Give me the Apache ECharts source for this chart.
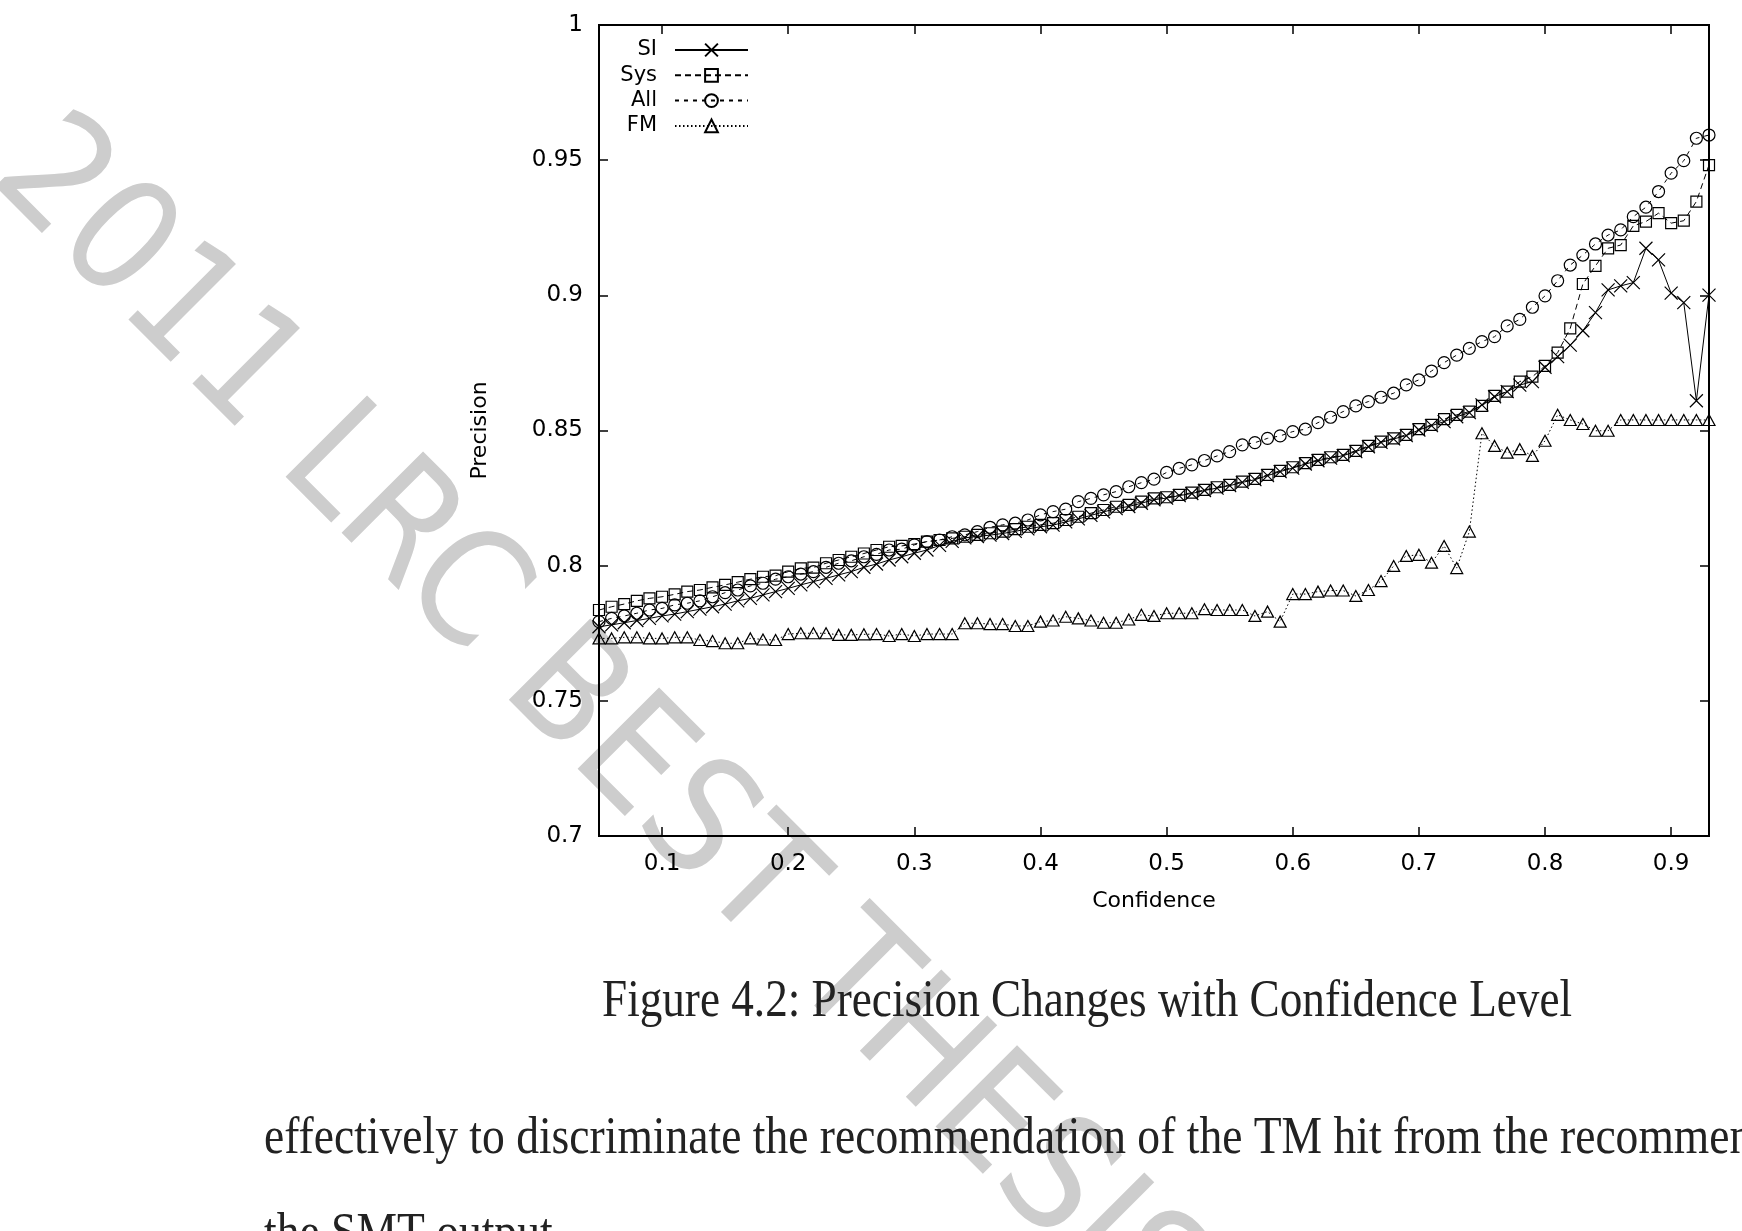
<!DOCTYPE html>
<html>
<head>
<meta charset="utf-8">
<title>Precision Changes with Confidence Level</title>
<script src="https://cdn.jsdelivr.net/npm/echarts@6.0.0/dist/echarts.min.js"></script>
<style>
  html, body { margin: 0; padding: 0; background: #fff; }
  #main { width: 1742px; height: 1231px; }
</style>
</head>
<body>
<div id="main"></div>
<script>
// confidence threshold (x) and precision of each method (y)
var confidence = [
  0.05, 0.06, 0.07, 0.08, 0.09, 0.10, 0.11, 0.12, 0.13, 0.14,
  0.15, 0.16, 0.17, 0.18, 0.19, 0.20, 0.21, 0.22, 0.23, 0.24,
  0.25, 0.26, 0.27, 0.28, 0.29, 0.30, 0.31, 0.32, 0.33, 0.34,
  0.35, 0.36, 0.37, 0.38, 0.39, 0.40, 0.41, 0.42, 0.43, 0.44,
  0.45, 0.46, 0.47, 0.48, 0.49, 0.50, 0.51, 0.52, 0.53, 0.54,
  0.55, 0.56, 0.57, 0.58, 0.59, 0.60, 0.61, 0.62, 0.63, 0.64,
  0.65, 0.66, 0.67, 0.68, 0.69, 0.70, 0.71, 0.72, 0.73, 0.74,
  0.75, 0.76, 0.77, 0.78, 0.79, 0.80, 0.81, 0.82, 0.83, 0.84,
  0.85, 0.86, 0.87, 0.88, 0.89, 0.90, 0.91, 0.92, 0.93
];

var precisionSI = [
  0.7774, 0.7781, 0.7789, 0.7797, 0.7805, 0.7814, 0.7821, 0.7830, 0.7839, 0.7848,
  0.7858, 0.7870, 0.7879, 0.7892, 0.7904, 0.7916, 0.7929, 0.7941, 0.7953, 0.7966,
  0.7978, 0.7994, 0.8006, 0.8021, 0.8033, 0.8046, 0.8058, 0.8075, 0.8090, 0.8103,
  0.8108, 0.8113, 0.8119, 0.8127, 0.8136, 0.8144, 0.8150, 0.8162, 0.8173, 0.8186,
  0.8199, 0.8211, 0.8219, 0.8231, 0.8244, 0.8250, 0.8259, 0.8267, 0.8278, 0.8287,
  0.8296, 0.8308, 0.8318, 0.8333, 0.8348, 0.8361, 0.8376, 0.8388, 0.8398, 0.8407,
  0.8422, 0.8440, 0.8456, 0.8469, 0.8481, 0.8502, 0.8518, 0.8533, 0.8551, 0.8566,
  0.8595, 0.8625, 0.8644, 0.8668, 0.8681, 0.8734, 0.8773, 0.8816, 0.8869, 0.8936,
  0.9020, 0.9035, 0.9047, 0.9174, 0.9131, 0.9008, 0.8973, 0.8610, 0.9001
];

var precisionSys = [
  0.7836, 0.7848, 0.7858, 0.7870, 0.7879, 0.7885, 0.7894, 0.7904, 0.7910, 0.7920,
  0.7929, 0.7939, 0.7950, 0.7959, 0.7963, 0.7978, 0.7990, 0.7993, 0.8009, 0.8021,
  0.8033, 0.8045, 0.8058, 0.8070, 0.8073, 0.8080, 0.8089, 0.8095, 0.8101, 0.8107,
  0.8114, 0.8120, 0.8126, 0.8135, 0.8144, 0.8151, 0.8157, 0.8169, 0.8181, 0.8194,
  0.8206, 0.8218, 0.8225, 0.8237, 0.8249, 0.8253, 0.8262, 0.8270, 0.8280, 0.8290,
  0.8299, 0.8311, 0.8321, 0.8336, 0.8351, 0.8364, 0.8379, 0.8391, 0.8401, 0.8410,
  0.8425, 0.8443, 0.8459, 0.8471, 0.8484, 0.8505, 0.8521, 0.8542, 0.8558, 0.8570,
  0.8591, 0.8628, 0.8644, 0.8681, 0.8699, 0.8739, 0.8788, 0.8878, 0.9042, 0.9109,
  0.9174, 0.9186, 0.9257, 0.9273, 0.9304, 0.9267, 0.9276, 0.9347, 0.9482
];

var precisionAll = [
  0.7793, 0.7805, 0.7814, 0.7824, 0.7836, 0.7842, 0.7855, 0.7861, 0.7870, 0.7885,
  0.7900, 0.7910, 0.7925, 0.7935, 0.7950, 0.7959, 0.7969, 0.7978, 0.7994, 0.8009,
  0.8018, 0.8033, 0.8042, 0.8058, 0.8061, 0.8077, 0.8089, 0.8095, 0.8107, 0.8114,
  0.8126, 0.8142, 0.8151, 0.8157, 0.8169, 0.8188, 0.8200, 0.8209, 0.8237, 0.8249,
  0.8262, 0.8274, 0.8292, 0.8307, 0.8320, 0.8345, 0.8360, 0.8373, 0.8389, 0.8406,
  0.8422, 0.8447, 0.8455, 0.8471, 0.8480, 0.8496, 0.8505, 0.8529, 0.8549, 0.8570,
  0.8591, 0.8607, 0.8623, 0.8638, 0.8669, 0.8687, 0.8720, 0.8751, 0.8779, 0.8804,
  0.8829, 0.8847, 0.8887, 0.8911, 0.8956, 0.8998, 0.9054, 0.9112, 0.9149, 0.9190,
  0.9223, 0.9242, 0.9291, 0.9326, 0.9384, 0.9452, 0.9498, 0.9581, 0.9593
];

var precisionFM = [
  0.7731, 0.7731, 0.7735, 0.7735, 0.7731, 0.7731, 0.7735, 0.7735, 0.7725, 0.7721,
  0.7713, 0.7713, 0.7731, 0.7727, 0.7725, 0.7747, 0.7750, 0.7750, 0.7750, 0.7744,
  0.7744, 0.7746, 0.7747, 0.7740, 0.7747, 0.7740, 0.7747, 0.7747, 0.7747, 0.7787,
  0.7787, 0.7784, 0.7784, 0.7777, 0.7777, 0.7793, 0.7797, 0.7811, 0.7805, 0.7797,
  0.7789, 0.7789, 0.7801, 0.7818, 0.7814, 0.7824, 0.7824, 0.7824, 0.7839, 0.7836,
  0.7836, 0.7836, 0.7814, 0.7830, 0.7793, 0.7895, 0.7895, 0.7904, 0.7908, 0.7908,
  0.7888, 0.7910, 0.7943, 0.7999, 0.8036, 0.8040, 0.8011, 0.8073, 0.7991, 0.8126,
  0.8490, 0.8443, 0.8418, 0.8431, 0.8406, 0.8462, 0.8558, 0.8539, 0.8524, 0.8499,
  0.8499, 0.8539, 0.8539, 0.8539, 0.8539, 0.8539, 0.8539, 0.8539, 0.8539
];

var seriesNames = ["SI", "Sys", "All", "FM"];
var xTicks = [0.1, 0.2, 0.3, 0.4, 0.5, 0.6, 0.7, 0.8, 0.9];

var captionText = "Figure 4.2: Precision Changes with Confidence Level";
var bodyLine1 = "effectively to discriminate the recommendation of the TM hit from the recommendation of";
var bodyLine2 = "the SMT output.";
var watermarkText = "2011 LRC BEST THESIS";

var axisFont = "DejaVu Sans";
var serifFont = "Liberation Serif";

// the page text is a narrow serif, squeeze Liberation Serif to the same width
var ctx = document.createElement("canvas").getContext("2d");
ctx.font = '52px "' + serifFont + '"';
var captionScale = 970 / ctx.measureText(captionText).width;
var bodyScale = 1296 / ctx.measureText("effectively to discriminate the recommendation of the TM hit from the ").width;

function pairs(ys) {
  return confidence.map(function (x, i) { return [x, ys[i]]; });
}

var crossSymbol = "path://M0,0L10,10M10,0L0,10";

function lineSeries(name, ys, symbol, size, dash) {
  return {
    name: name,
    type: "line",
    data: pairs(ys),
    symbol: symbol,
    symbolSize: size,
    showAllSymbol: true,
    lineStyle: { color: "#000", width: 1, type: dash },
    itemStyle: { color: "rgba(0,0,0,0)", borderColor: "#000", borderWidth: 1.2 },
    emphasis: { disabled: true },
    z: 3
  };
}

var series = [
  lineSeries("SI", precisionSI, crossSymbol, 13, "solid"),
  lineSeries("Sys", precisionSys, "rect", 11, [6, 4]),
  lineSeries("All", precisionAll, "circle", 12, [4, 5]),
  lineSeries("FM", precisionFM, "triangle", [12, 11], [1.5, 2.5])
];

// gnuplot style key: name on the left, sample on the right
var legends = seriesNames.map(function (n, i) {
  return {
    data: [n],
    orient: "vertical",
    align: "right",
    right: 993,
    top: 38 + i * 25.3,
    padding: 0,
    itemWidth: 73,
    itemHeight: 16,
    selectedMode: false,
    textStyle: {
      fontFamily: axisFont, fontSize: 21, color: "#000",
      lineHeight: 24, padding: [0, 13, 0, 0]
    }
  };
});

var tickStyle = { color: "#000", width: 1.5 };

var chart = echarts.init(document.getElementById("main"));
chart.setOption({
  animation: false,
  backgroundColor: "#fff",
  grid: {
    left: 599, top: 25, right: 33, bottom: 395,
    show: true, borderColor: "#000", borderWidth: 2
  },
  legend: legends,
  xAxis: [
    {
      type: "value", min: 0.05, max: 0.93, position: "bottom",
      axisLine: { show: false },
      splitLine: { show: false },
      axisTick: { inside: true, length: 9, lineStyle: tickStyle, customValues: xTicks },
      axisLabel: { customValues: xTicks, fontFamily: axisFont, fontSize: 23, color: "#000", margin: 17 },
      name: "Confidence", nameLocation: "middle", nameGap: 54,
      nameTextStyle: { fontFamily: axisFont, fontSize: 22, color: "#000" }
    },
    {
      type: "value", min: 0.05, max: 0.93, position: "top",
      axisLine: { show: false },
      splitLine: { show: false },
      axisTick: { inside: true, length: 9, lineStyle: tickStyle, customValues: xTicks },
      axisLabel: { show: false }
    }
  ],
  yAxis: [
    {
      type: "value", min: 0.7, max: 1, interval: 0.05, position: "left",
      axisLine: { show: false },
      splitLine: { show: false },
      axisTick: { inside: true, length: 9, lineStyle: tickStyle },
      axisLabel: { fontFamily: axisFont, fontSize: 23, color: "#000", margin: 16 },
      name: "Precision", nameLocation: "middle", nameGap: 108, nameRotate: 90,
      nameTextStyle: { fontFamily: axisFont, fontSize: 22, color: "#000" }
    },
    {
      type: "value", min: 0.7, max: 1, interval: 0.05, position: "right",
      axisLine: { show: false },
      splitLine: { show: false },
      axisTick: { inside: true, length: 9, lineStyle: tickStyle },
      axisLabel: { show: false }
    }
  ],
  series: series,
  graphic: [
    {
      type: "text", x: 17, y: 150, rotation: -Math.PI / 4, scaleX: 0.9,
      z: -1, silent: true,
      style: {
        text: watermarkText, fontFamily: axisFont, fontSize: 158, fill: "#cdcdcd",
        textAlign: "left", textVerticalAlign: "middle", align: "left", verticalAlign: "middle"
      }
    },
    {
      type: "text", x: 602, y: 1002, scaleX: captionScale, silent: true,
      style: {
        text: captionText, fontFamily: serifFont, fontSize: 52, fill: "#222",
        textAlign: "left", textVerticalAlign: "middle", align: "left", verticalAlign: "middle"
      }
    },
    {
      type: "text", x: 264, y: 1139, scaleX: bodyScale, silent: true,
      style: {
        text: bodyLine1, fontFamily: serifFont, fontSize: 52, fill: "#222",
        textAlign: "left", textVerticalAlign: "middle", align: "left", verticalAlign: "middle"
      }
    },
    {
      type: "text", x: 264, y: 1235, scaleX: bodyScale, silent: true,
      style: {
        text: bodyLine2, fontFamily: serifFont, fontSize: 52, fill: "#222",
        textAlign: "left", textVerticalAlign: "middle", align: "left", verticalAlign: "middle"
      }
    }
  ]
});
</script>
</body>
</html>
